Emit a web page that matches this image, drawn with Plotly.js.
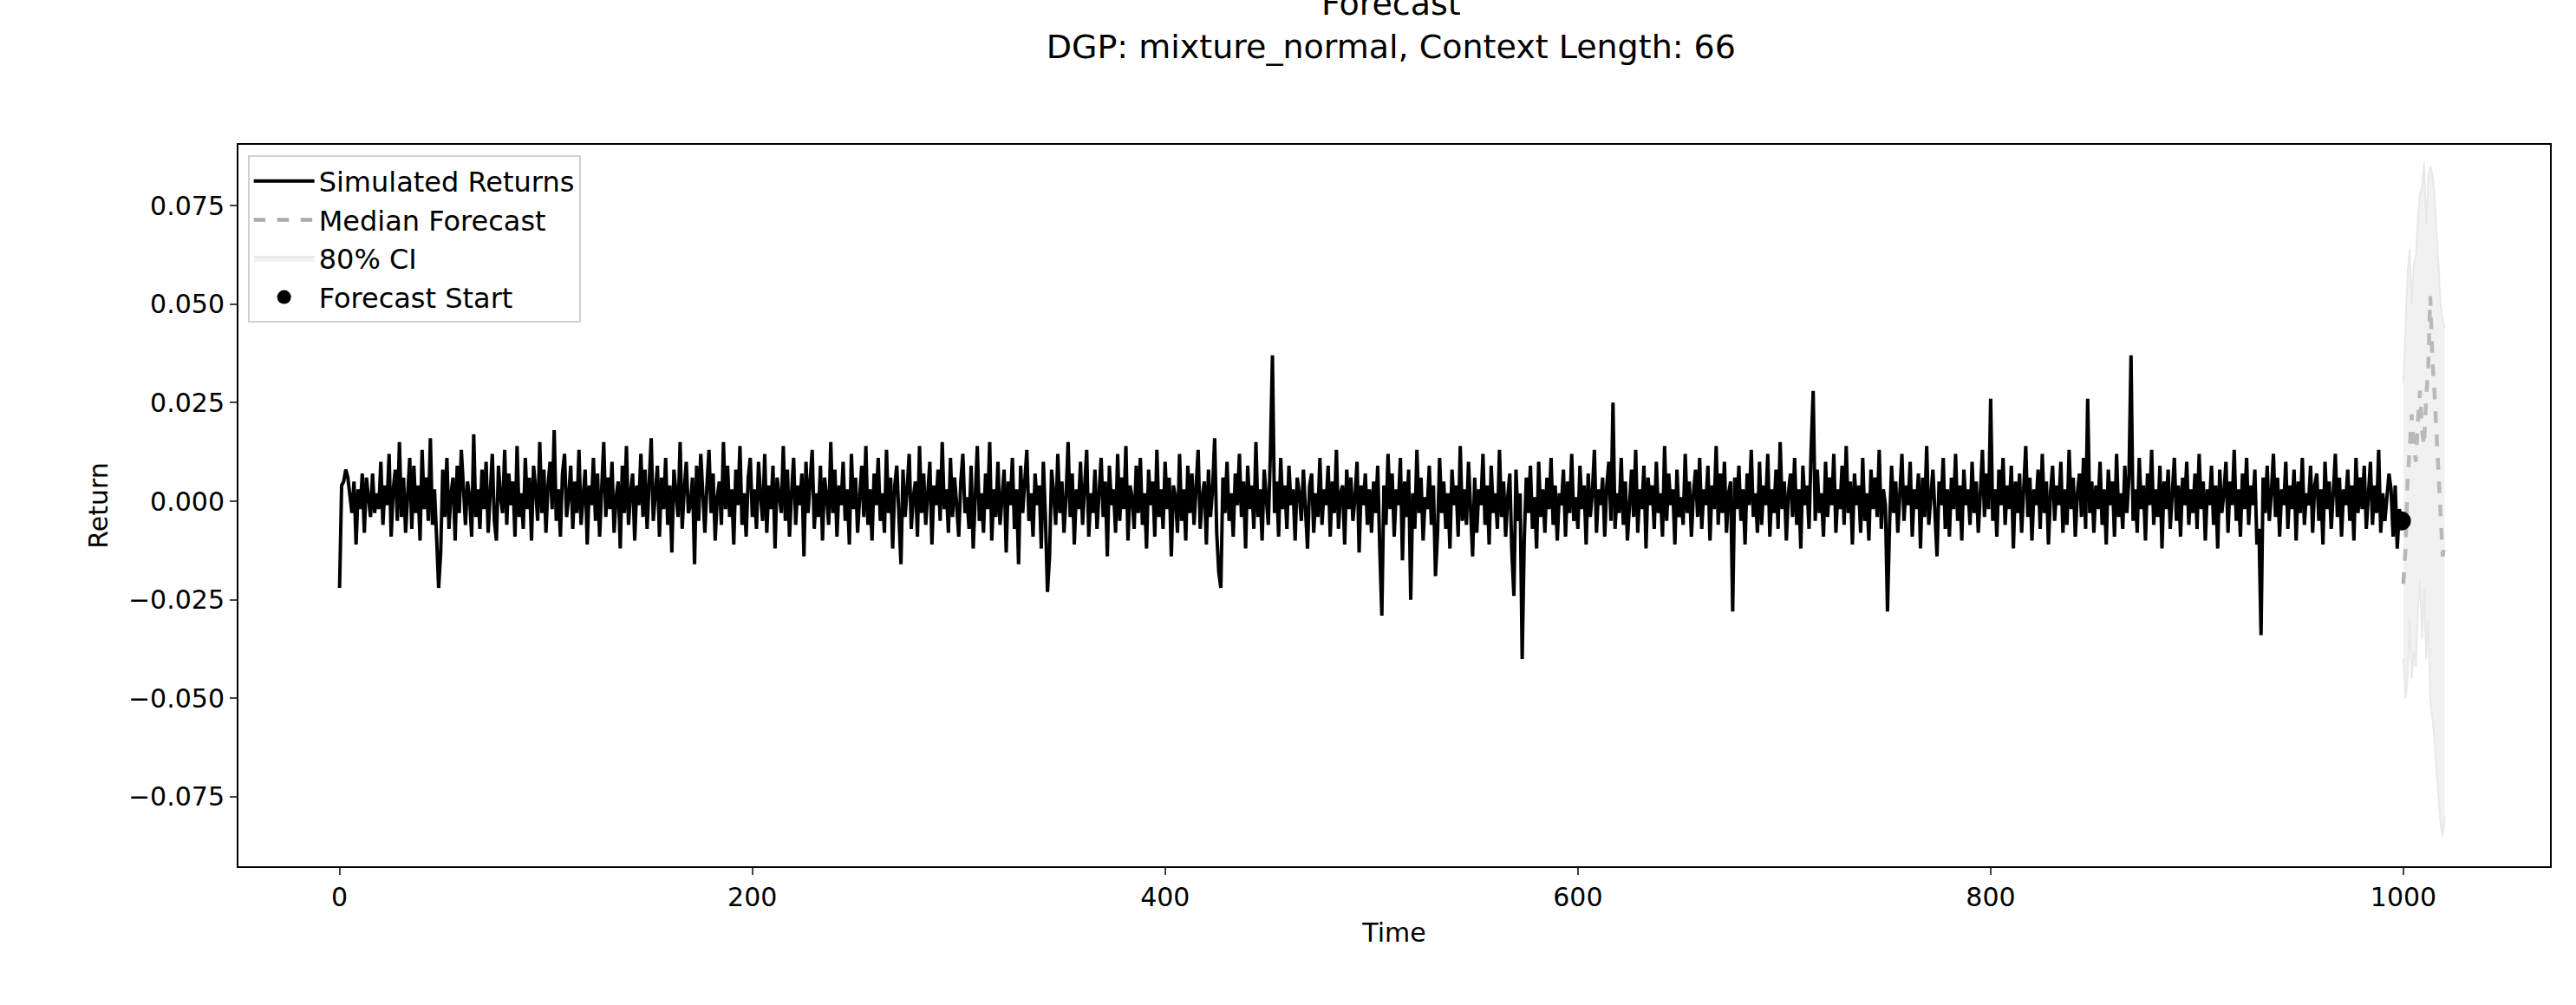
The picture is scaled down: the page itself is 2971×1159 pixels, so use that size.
<!DOCTYPE html>
<html>
<head>
<meta charset="utf-8">
<script src="https://cdn.plot.ly/plotly-3.0.1.min.js"></script>
<style>body{margin:0;background:#fff}#chart{width:2971px;height:1159px}</style>
</head>
<body>
<div id="chart"></div>
<script>
// simulated returns, in units of 0.001
var returnsMilli = [
-22,4,5,8,6,2,-3,5,-11,3,-2,7,-8,6,1,-4,7,-3,2,-2,10,-6,4,-1,12,-9,3,8,-5,15,-4,6,-8,2,11,-7,9,-3,4,-10,13,-2,6,-5,16,-6,3,-9,-22,-13,
8,-4,11,-7,2,6,-10,9,-3,13,2,-6,5,1,-9,17,-4,3,-7,8,-2,10,-8,4,12,-5,-10,9,1,-3,13,-6,7,-1,5,-9,14,-4,2,-7,11,-2,6,-10,9,3,-5,15,-3,8,
-8,4,10,-2,18,-5,3,-9,7,12,-4,1,9,-7,5,-3,13,-6,2,8,-11,4,-1,11,-5,7,-9,3,15,-4,6,-2,10,-8,1,5,-12,9,-3,14,-6,2,7,-10,4,-1,12,-4,8,-7,
3,16,-5,1,9,-9,6,-2,11,-6,4,-13,8,2,-4,15,-7,3,10,-3,-1,6,-16,9,-5,12,2,-8,4,13,-3,7,-10,1,5,-6,15,-2,9,-4,3,-11,8,-1,14,-6,2,-9,6,11,
-4,3,-7,10,1,-5,12,-8,4,-2,9,-12,6,1,-3,14,-5,8,-9,2,11,-6,4,-1,7,-14,10,-3,5,13,-7,2,-4,9,-10,6,1,-6,15,-3,8,-9,4,-1,10,-5,3,-11,12,-2,
6,-8,1,9,-4,14,-6,3,-10,7,-1,11,-5,2,-8,13,-3,6,-12,4,9,-2,-16,8,-4,3,12,-7,1,5,-9,14,-3,7,-6,2,10,-11,4,-1,8,-5,15,-2,3,-8,11,-4,6,-1,
-9,5,12,-3,1,-7,9,-12,4,14,-5,2,-8,7,-2,15,-10,3,-4,10,-6,1,8,-13,5,-1,11,-7,3,-16,9,-3,6,13,-5,2,-9,7,-1,4,-12,10,-4,-23,-14,8,2,-6,12,-3,
5,-8,1,15,-4,7,-11,3,-2,10,-6,4,13,-9,2,-3,8,-7,1,11,-4,5,-14,9,-1,3,-8,12,-5,6,-2,14,-10,4,1,-7,9,-3,11,-6,2,-12,8,-1,5,-9,13,-4,3,-7,
10,-2,6,-14,4,1,-8,12,-5,3,-10,9,-3,7,-6,2,13,-7,1,5,-11,8,-4,3,16,-8,-18,-22,6,-3,10,-5,2,-9,7,-1,12,-4,5,-12,9,-2,4,-7,15,-4,3,-10,8,1,
-6,12,37,-3,5,-9,11,-2,4,-7,9,-1,3,-10,6,2,-5,8,-3,-12,4,7,-8,2,-4,11,-6,3,-1,9,-9,5,-3,13,-7,2,4,-11,8,-2,6,-5,1,10,-13,4,-1,7,-6,3,
-8,5,-3,9,-12,-29,4,-6,12,-2,7,-9,3,-1,11,-15,5,-4,8,-25,2,-7,13,-3,6,-10,1,-2,9,-6,4,-19,-8,11,-3,5,-7,2,-12,8,-1,4,-9,14,-5,3,-6,10,-2,-14,
6,-8,3,-1,12,-6,4,-11,9,-3,2,-7,13,-4,5,-9,1,7,-13,-24,8,-5,2,-40,-10,6,-3,9,-7,1,-12,10,-4,3,-8,6,-2,11,-6,4,-10,2,-1,8,-9,5,-3,12,-5,1,
-7,9,-2,4,-11,7,-4,2,13,-8,3,-1,6,-9,4,10,-5,25,-7,2,-3,11,-6,5,-10,1,8,-4,13,-8,3,-2,9,-12,6,-1,4,-7,10,-3,2,-9,14,-5,7,-1,3,-11,8,-4,
1,-6,12,-3,5,-9,2,8,-4,11,-7,3,-1,9,-10,4,-2,14,-6,7,-3,10,-8,2,5,-28,6,-2,9,-5,3,-11,7,-1,13,-4,2,-8,10,-6,4,-1,12,-9,3,-3,8,-7,15,-2,
5,-10,2,7,-4,11,-6,3,-12,9,-1,4,-7,13,28,-5,8,-3,2,-9,10,-4,6,-1,12,-8,3,-2,9,-6,14,-3,5,-11,7,-1,4,-8,11,-5,2,-10,8,-2,6,-4,13,-7,3,-1,
-28,-6,9,-3,5,-8,2,12,-5,4,-1,10,-9,3,-2,7,-12,6,-4,14,-6,2,8,-3,-14,5,-1,11,-7,3,-9,6,-2,12,-5,4,-10,8,-1,3,-6,10,-3,5,-8,2,13,-4,7,-2,
26,-5,3,-9,8,-1,11,-6,4,-2,9,-12,5,-3,7,-8,2,14,-4,6,-10,3,-1,8,-7,12,-3,5,-11,2,9,-5,4,-1,10,-8,3,-6,13,-2,6,-9,2,7,-4,11,-7,26,-3,5,
-8,4,-2,10,-6,3,-11,8,-1,5,-9,12,-4,2,-7,9,-3,6,37,-5,3,-8,11,-2,4,-10,7,-1,13,-6,3,-4,9,-12,5,-2,8,-7,2,11,-5,4,-9,6,-1,10,-6,3,-3,7,
-7,12,-2,5,-10,3,-1,9,-6,4,-12,8,-3,2,10,-8,5,-1,13,-5,3,-9,7,-2,11,-6,4,-1,8,-11,-7,-34,6,-3,9,-5,2,12,-4,6,-9,3,-1,10,-7,4,-2,8,-10,5,
-3,11,-6,2,-1,9,-8,4,7,-5,3,-11,10,-2,5,-7,2,12,-4,6,-9,3,-1,8,-5,4,-10,11,-3,6,-2,9,-7,3,10,-6,4,-3,13,-8,2,-5,1,7,3,-9,4,-12,-2,-5
];
var forecastMedian = [-0.021,-0.012,0.005,0.016,0.022,0.014,0.010,0.020,0.028,0.018,0.014,0.026,0.034,0.052,0.036,0.028,0.018,0.008,-0.004,-0.014,-0.010];
var forecastUpper = [0.030,0.045,0.058,0.064,0.050,0.060,0.062,0.072,0.078,0.080,0.086,0.070,0.082,0.085,0.083,0.078,0.070,0.060,0.050,0.046,0.044];
var forecastLower = [-0.040,-0.050,-0.045,-0.030,-0.045,-0.038,-0.042,-0.028,-0.020,-0.035,-0.022,-0.040,-0.030,-0.050,-0.055,-0.060,-0.068,-0.075,-0.082,-0.085,-0.080];
var forecastStartX = 999;

var t = returnsMilli.map(function(v, i){ return i; });
var returns = returnsMilli.map(function(v){ return v / 1000; });
var tf = forecastMedian.map(function(v, i){ return forecastStartX + 1 + i; });

var data = [
  {x: t, y: returns, type: 'scatter', mode: 'lines', name: 'Simulated Returns',
   line: {color: '#000000', width: 4}},
  {x: tf, y: forecastMedian, type: 'scatter', mode: 'lines', name: 'Median Forecast',
   line: {color: '#aaaaaa', width: 4.5, dash: 'dash'}},
  {x: tf, y: forecastLower, type: 'scatter', mode: 'lines', showlegend: false, hoverinfo: 'skip',
   line: {color: '#e8e8e8', width: 2}},
  {x: tf, y: forecastUpper, type: 'scatter', mode: 'lines', name: '80% CI', fill: 'tonexty',
   fillcolor: 'rgba(215,215,215,0.35)', line: {color: '#e8e8e8', width: 2}},
  {x: [forecastStartX], y: [returns[forecastStartX]], type: 'scatter', mode: 'markers', name: 'Forecast Start',
   marker: {color: '#000000', size: 22}}
];

var layout = {
  width: 2971, height: 1159,
  font: {family: 'DejaVu Sans', size: 30, color: '#000'},
  paper_bgcolor: '#fff', plot_bgcolor: '#fff',
  margin: {l: 275, r: 30, t: 167, b: 160},
  title: {text: 'Forecast<br>DGP: mixture_normal, Context Length: 66', font: {size: 38}, x: 0.54, xanchor: 'center', y: 0.985, yanchor: 'top'},
  xaxis: {title: {text: 'Time', font: {size: 30}, standoff: 14}, range: [-49, 1071], tickvals: [0, 200, 400, 600, 800, 1000],
    showgrid: false, zeroline: false, showline: true, mirror: true, linecolor: '#000', linewidth: 2,
    ticks: 'outside', ticklen: 8, tickwidth: 2},
  yaxis: {title: {text: 'Return', font: {size: 30}, standoff: 14}, range: [-0.0926, 0.0904],
    tickvals: [-0.075, -0.05, -0.025, 0, 0.025, 0.05, 0.075],
    ticktext: ['\u22120.075', '\u22120.050', '\u22120.025', '0.000', '0.025', '0.050', '0.075'],
    showgrid: false, zeroline: false, showline: true, mirror: true, linecolor: '#000', linewidth: 2,
    ticks: 'outside', ticklen: 8, tickwidth: 2},
  legend: {x: 0.004, y: 0.985, xanchor: 'left', yanchor: 'top', bgcolor: 'rgba(255,255,255,0.85)',
    bordercolor: '#d0d0d0', borderwidth: 2, font: {size: 32}, traceorder: 'normal', itemwidth: 70, tracegroupgap: 0},
  showlegend: true
};

Plotly.newPlot(document.getElementById('chart'), data, layout, {staticPlot: true});
</script>
</body>
</html>
